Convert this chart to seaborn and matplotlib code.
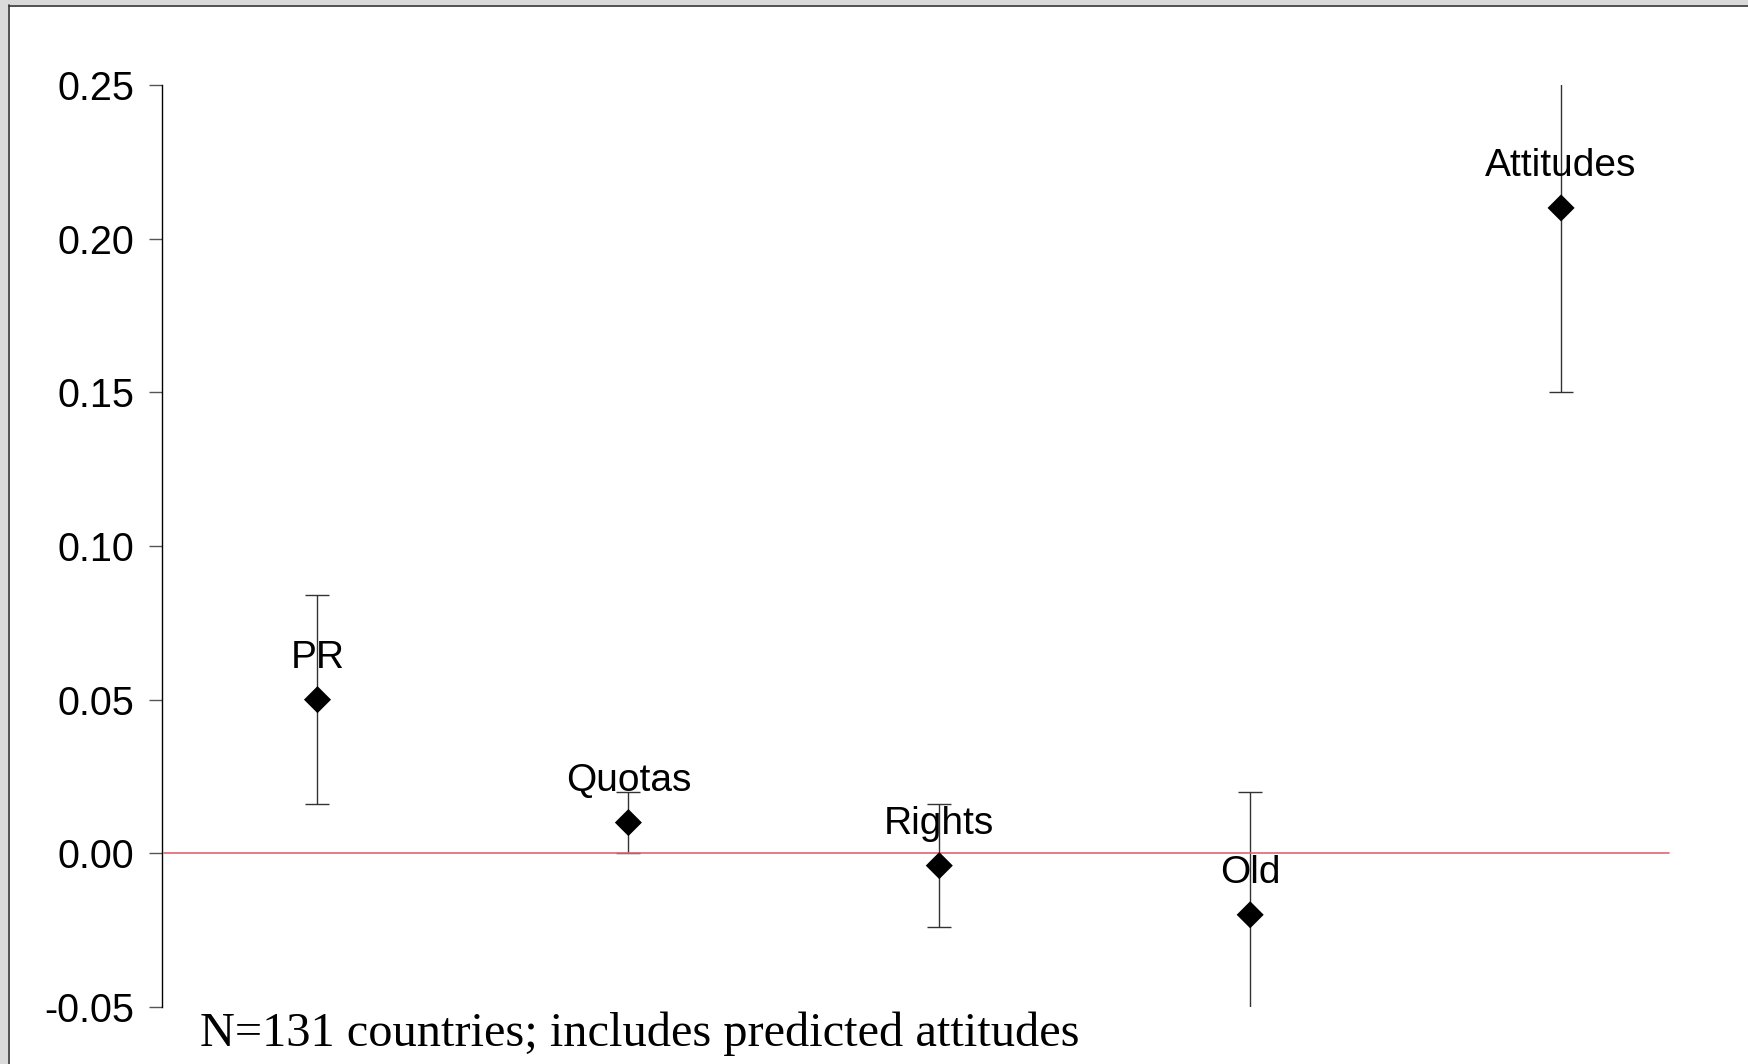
import numpy as np
import pandas as pd
import matplotlib.pyplot as plt
import seaborn as sns
from matplotlib.patches import Rectangle
from matplotlib.lines import Line2D

# data
labels = ['PR', 'Quotas', 'Rights', 'Old', 'Attitudes']
estimates = [0.05, 0.01, -0.004, -0.02, 0.21]
ci_low = [0.016, 0.0, -0.024, -0.06, 0.15]
ci_high = [0.084, 0.02, 0.016, 0.02, 0.27]
yticks = [-0.05, 0.00, 0.05, 0.10, 0.15, 0.20, 0.25]
note = 'N=131 countries; includes predicted attitudes'

df = pd.DataFrame({'var': labels, 'est': estimates, 'lo': ci_low, 'hi': ci_high})
df['pos'] = np.arange(1, len(df) + 1)

sns.set_theme(style='white')
plt.rcParams['font.family'] = ['Liberation Sans', 'DejaVu Sans']
plt.rcParams['axes.unicode_minus'] = False

fig = plt.figure(figsize=(17.48, 10.64), dpi=100)
fig.patch.set_facecolor('white')

# grey window frame on top and left
W, H = 1748, 1064
fig.patches.append(Rectangle((0, 0), 8 / W, 1, transform=fig.transFigure,
                             facecolor='#dadada', edgecolor='none'))
fig.patches.append(Rectangle((0, 1 - 5 / H), 1, 5 / H, transform=fig.transFigure,
                             facecolor='#dadada', edgecolor='none'))
fig.lines.append(Line2D([8.5 / W, 8.5 / W], [0, 1 - 5 / H], transform=fig.transFigure,
                        color='#333333', lw=1.2))
fig.lines.append(Line2D([8.5 / W, 1], [1 - 5.5 / H, 1 - 5.5 / H], transform=fig.transFigure,
                        color='#333333', lw=1.2))

ax = fig.add_axes([0.0927, 0.0536, 0.8893, 0.8665])
ax.set_facecolor('white')

# confidence intervals
ax.errorbar(df['pos'], df['est'],
            yerr=[df['est'] - df['lo'], df['hi'] - df['est']],
            fmt='none', ecolor='#333333', elinewidth=1, capsize=8.8,
            capthick=1, zorder=2)

# zero line
ax.axhline(0, xmin=0.001, xmax=0.9694, color='#e06670', lw=1.2, zorder=2.5)

# point estimates
diamond = [(0, 1), (1, 0), (0, -1), (-1, 0)]
sns.scatterplot(data=df, x='pos', y='est', marker=diamond, s=380,
                color='black', edgecolor='none', linewidth=0, ax=ax,
                zorder=3, legend=False)

# variable names above each point
for _, r in df.iterrows():
    ax.annotate(r['var'], (r['pos'], r['est']), xytext=(0, 23),
                textcoords='offset points', ha='center', va='baseline',
                fontsize=28, color='black', zorder=4)

ax.set_xlim(0.5, 5.5)
ax.set_ylim(-0.05, 0.25)
ax.set_xticks([])
ax.set_yticks(yticks)
ax.set_yticklabels([f'{v:.2f}' for v in yticks])
ax.set_xlabel('')
ax.set_ylabel('')
ax.tick_params(axis='y', left=True, length=9.6, width=1, color='#555555',
               pad=10.5, labelsize=28.5, labelcolor='black')
for side in ['top', 'right', 'bottom']:
    ax.spines[side].set_visible(False)
ax.spines['left'].set_color('black')
ax.spines['left'].set_linewidth(1)

fig.text(200 / W, 1 - 1046 / H, note, family=['Liberation Serif', 'DejaVu Serif'],
         fontsize=34.8, va='baseline', ha='left', color='black')

plt.savefig('out.png', dpi=100)
